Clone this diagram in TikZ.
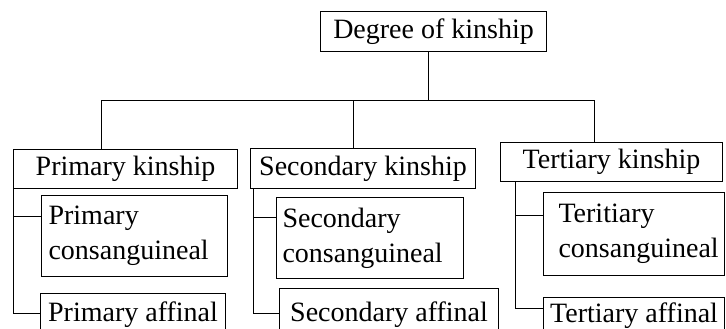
\documentclass[tikz,border=0pt]{standalone}
\usepackage{fontspec}
\setmainfont{Liberation Serif}
\begin{document}
\begin{tikzpicture}[x=1bp,y=-1bp,
  box/.style={draw, line width=1.1bp, inner sep=0pt, anchor=north west,
              font=\fontsize{28bp}{35bp}\selectfont},
  cbox/.style={box, align=center, text height=19bp, text depth=6bp},
  lbox/.style={box, align=left, inner xsep=0pt},
  conn/.style={line width=0.9bp}]
\useasboundingbox (0,0) rectangle (726,328);
\clip (0,0) rectangle (726,328);
% top
\node[cbox, minimum width=226bp, minimum height=40bp] (deg) at (320,11) {Degree of kinship};
% level 2
\node[cbox, minimum width=224bp, minimum height=39bp] (prim) at (13,149) {Primary kinship};
\node[cbox, minimum width=225bp, minimum height=40bp] (sec) at (250,148) {Secondary kinship};
\node[cbox, minimum width=222bp, minimum height=39bp] (ter) at (500,142) {Tertiary kinship};
% consanguineal
\node[lbox, text width=186bp, minimum height=81bp] (pc) at (41,195) {\hspace*{7bp}Primary\\\hspace*{7bp}consanguineal};
\node[lbox, text width=187bp, minimum height=81bp] (sc) at (276,197) {\hspace*{6bp}Secondary\\\hspace*{6bp}consanguineal};
\node[lbox, text width=181bp, minimum height=83bp] (tc) at (543,192) {\hspace*{15bp}Teritiary\\\hspace*{15bp}consanguineal};
% affinal
\node[cbox, minimum width=185bp, minimum height=43bp] (pa) at (40,293) {Primary affinal};
\node[cbox, minimum width=219bp, minimum height=53bp] (sa) at (279,288) {Secondary affinal};
\node[cbox, minimum width=181bp, minimum height=37bp] (ta) at (543,297) {Tertiary affinal};
% top connectors
\coordinate (dv) at (428,51);
\coordinate (hl) at (101,100);
\coordinate (hs) at (353,100);
\coordinate (hr) at (594,100);
\draw[conn] (dv) -- (dv |- hl);
\draw[conn] (hl) -- (hr);
\draw[conn] (hl) -- (hl |- prim.north);
\draw[conn] (hs) -- (hs |- sec.north);
\draw[conn] (hr) -- (hr |- ter.north);
% primary branches
\coordinate (pv) at (13,188);
\coordinate (pcb) at (41,216);
\coordinate (pab) at (40,313);
\draw[conn] (pv) |- (pab);
\draw[conn] (pv |- pcb) -- (pcb);
% secondary branches
\coordinate (sv) at (253,188);
\coordinate (scb) at (276,217);
\coordinate (sab) at (279,313);
\draw[conn] (sv) |- (sab);
\draw[conn] (sv |- scb) -- (scb);
% tertiary branches
\coordinate (tv) at (515,181);
\coordinate (tcb) at (543,215);
\coordinate (tab) at (543,308);
\draw[conn] (tv) |- (tab);
\draw[conn] (tv |- tcb) -- (tcb);
\end{tikzpicture}
\end{document}
